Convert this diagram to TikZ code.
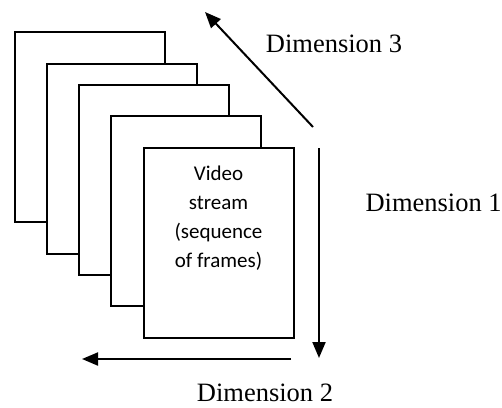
\documentclass[tikz,border=0pt]{standalone}
\usepackage{fontspec}
\setmainfont{Liberation Serif}
\newfontfamily\framefont{Carlito}
\usetikzlibrary{positioning,arrows.meta}

\begin{document}
\begin{tikzpicture}[x=1pt,y=-1pt,line width=2pt,
  dimlabel/.style={font=\fontsize{26.5}{30}\selectfont,inner sep=0pt},
  dimarrow/.style={-{Triangle[length=16pt,width=13pt]}}]
\useasboundingbox (0,0) rectangle (502,407);
\foreach \x/\y[count=\i] in {90/127,122/159,154/179.5,186/211,218.5/242.5}
\node at(\x,\y)[draw,fill=white,minimum height=190pt,minimum width=150pt,outer sep=0pt](f\i){};
\node at(f5.north)[anchor=north,yshift=-14pt,align=center,
    font=\framefont\fontsize{21}{29}\selectfont](video){Video\\stream\\(sequence\\of frames)};
\coordinate (d3a) at (313,127);
\coordinate (d3b) at (205,12);
\coordinate (d1a) at (319,148);
\coordinate (d1b) at (319,358);
\coordinate (d2a) at (291,359);
\coordinate (d2b) at (82,359);
\draw[dimarrow] (d3a) -- (d3b);
\draw[dimarrow] (d1a) -- (d1b);
\draw[dimarrow] (d2a) -- (d2b);
\node at(334,44)[dimlabel](dim3){Dimension 3};
\node at(364.5,203)[dimlabel,anchor=west](dim1){Dimension 1};
\node at(265,393)[dimlabel](dim2){Dimension 2};
\end{tikzpicture}
\end{document}
